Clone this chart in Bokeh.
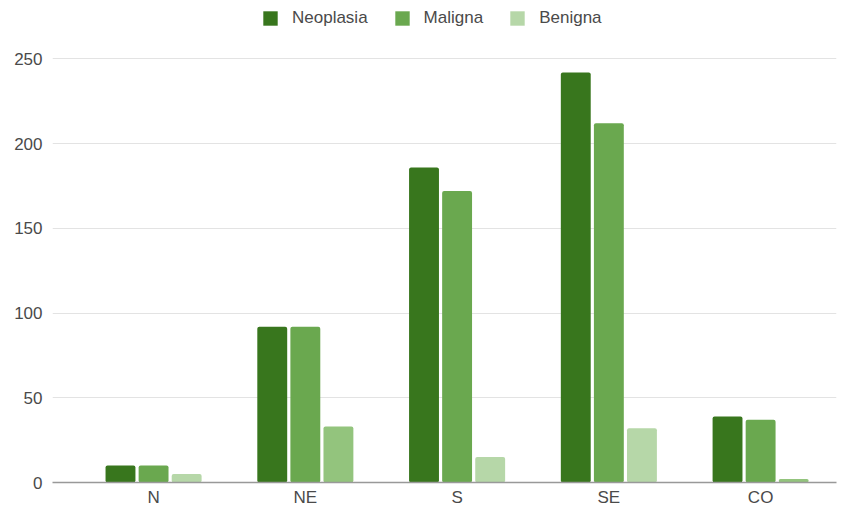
from bokeh.plotting import figure
from bokeh.models import ColumnDataSource, Legend, LegendItem, FixedTicker, Range1d
from bokeh.transform import dodge
from bokeh.embed import file_html
from bokeh.resources import INLINE

# Casos por região
regions = ["N", "NE", "S", "SE", "CO"]
neoplasia = [10, 92, 186, 242, 39]
maligna = [10, 92, 172, 212, 37]
benigna = [5, 33, 15, 32, 2]
y_ticks = [0, 50, 100, 150, 200, 250]

COL_NEO = "#38761d"
COL_MAL = "#6aa84f"
BEN_COLORS = ["#b6d7a8", "#93c47d", "#b6d7a8", "#b6d7a8", "#93c47d"]

FONT = "Liberation Sans"
TXT = "#4a4a4a"

xs = list(range(len(regions)))
src = ColumnDataSource(dict(x=xs, neo=neoplasia, mal=maligna, ben=benigna, ben_col=BEN_COLORS))

# headroom above 250 holds the legend strip
p = figure(width=850, height=509, output_backend="svg", toolbar_location=None,
           x_range=Range1d(-0.666, 4.5), y_range=Range1d(0, 284.5),
           min_border_left=52, min_border_right=14, min_border_bottom=24, min_border_top=0)
p.outline_line_color = None
p.background_fill_color = "white"
p.border_fill_color = "white"

bw = 0.197
off = 0.218
r1 = p.vbar(x=dodge("x", -off), top="neo", width=bw, source=src, fill_color=COL_NEO,
            line_color=None, border_radius=2)
r2 = p.vbar(x=dodge("x", 0), top="mal", width=bw, source=src, fill_color=COL_MAL,
            line_color=None, border_radius=2)
r3 = p.vbar(x=dodge("x", off), top="ben", width=bw, source=src, fill_color="ben_col",
            line_color=None, border_radius=2)

# axes
p.xaxis.ticker = FixedTicker(ticks=xs)
p.xaxis.major_label_overrides = {i: r for i, r in enumerate(regions)}
p.xaxis.major_tick_line_color = None
p.xaxis.major_tick_out = 0
p.xaxis.major_tick_in = 0
p.xaxis.minor_tick_line_color = None
p.xaxis.axis_line_color = "#999999"
p.xaxis.axis_line_width = 1.5
p.xaxis.major_label_text_font = FONT
p.xaxis.major_label_text_font_size = "17px"
p.xaxis.major_label_text_color = TXT
p.xaxis.major_label_standoff = 5

p.yaxis.ticker = FixedTicker(ticks=y_ticks)
p.yaxis.axis_line_color = None
p.yaxis.major_tick_line_color = None
p.yaxis.major_tick_out = 0
p.yaxis.major_tick_in = 0
p.yaxis.minor_tick_line_color = None
p.yaxis.major_label_text_font = FONT
p.yaxis.major_label_text_font_size = "17px"
p.yaxis.major_label_text_color = TXT
p.yaxis.major_label_standoff = 10

p.xgrid.grid_line_color = None
p.ygrid.grid_line_color = "#e3e3e3"
p.ygrid.grid_line_width = 1

legend = Legend(items=[LegendItem(label="Neoplasia", renderers=[r1]),
                       LegendItem(label="Maligna", renderers=[r2]),
                       LegendItem(label="Benigna", renderers=[r3])],
                orientation="horizontal", location=(209, 454),
                glyph_width=18, glyph_height=18, label_standoff=13, spacing=25,
                label_text_font=FONT, label_text_font_size="17px", label_text_color=TXT,
                border_line_color=None, background_fill_alpha=0,
                padding=0, margin=0)
p.add_layout(legend, "center")

open("out.html", "w").write(file_html(p, INLINE))
